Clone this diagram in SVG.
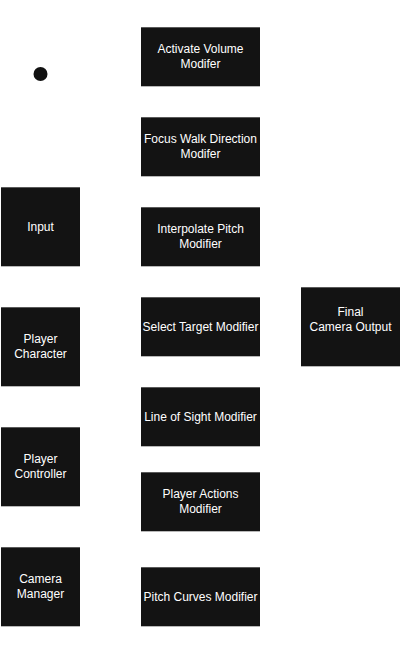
<svg xmlns="http://www.w3.org/2000/svg" width="401" height="667" viewBox="0 0 401 667">
<style>
.box{fill:#131313}
.top{stroke:#5a5a5a;stroke-width:1}
.bot{stroke:#b8b8b8;stroke-width:1}
text{font-family:"Liberation Sans",Arial,sans-serif;font-size:12px;fill:#ffffff;text-anchor:middle}
</style>
<rect width="401" height="667" fill="#ffffff"/>
<g id="start"><circle cx="40.5" cy="74" r="7" fill="#111111"/></g>
<g id="connectors"></g>
<g id="input"><rect class="box" x="1" y="187" width="79" height="79"/><line class="top" x1="1" y1="187.5" x2="80" y2="187.5"/><line class="bot" x1="1" y1="266.5" x2="80" y2="266.5"/><text x="40.5" y="231">Input</text></g>
<g id="player-character"><rect class="box" x="1" y="307" width="79" height="79"/><line class="top" x1="1" y1="307.5" x2="80" y2="307.5"/><line class="bot" x1="1" y1="386.5" x2="80" y2="386.5"/><text x="40.5" y="343">Player</text><text x="40.5" y="358">Character</text></g>
<g id="player-controller"><rect class="box" x="1" y="427" width="79" height="79"/><line class="top" x1="1" y1="427.5" x2="80" y2="427.5"/><line class="bot" x1="1" y1="506.5" x2="80" y2="506.5"/><text x="40.5" y="463">Player</text><text x="40.5" y="478">Controller</text></g>
<g id="camera-manager"><rect class="box" x="1" y="547" width="79" height="79"/><line class="top" x1="1" y1="547.5" x2="80" y2="547.5"/><line class="bot" x1="1" y1="626.5" x2="80" y2="626.5"/><text x="40.5" y="583">Camera</text><text x="40.5" y="598">Manager</text></g>
<g id="activate-volume"><rect class="box" x="141" y="27" width="119" height="59"/><line class="top" x1="141" y1="27.5" x2="260" y2="27.5"/><line class="bot" x1="141" y1="86.5" x2="260" y2="86.5"/><text x="200.5" y="53">Activate Volume</text><text x="200.5" y="68">Modifer</text></g>
<g id="focus-walk"><rect class="box" x="141" y="117" width="119" height="59"/><line class="top" x1="141" y1="117.5" x2="260" y2="117.5"/><line class="bot" x1="141" y1="176.5" x2="260" y2="176.5"/><text x="200.5" y="143">Focus Walk Direction</text><text x="200.5" y="158">Modifer</text></g>
<g id="interpolate-pitch"><rect class="box" x="141" y="207" width="119" height="59"/><line class="top" x1="141" y1="207.5" x2="260" y2="207.5"/><line class="bot" x1="141" y1="266.5" x2="260" y2="266.5"/><text x="200.5" y="233">Interpolate Pitch</text><text x="200.5" y="248">Modifier</text></g>
<g id="select-target"><rect class="box" x="141" y="297" width="119" height="59"/><line class="top" x1="141" y1="297.5" x2="260" y2="297.5"/><line class="bot" x1="141" y1="356.5" x2="260" y2="356.5"/><text x="200.5" y="331">Select Target Modifier</text></g>
<g id="line-of-sight"><rect class="box" x="141" y="387" width="119" height="59"/><line class="top" x1="141" y1="387.5" x2="260" y2="387.5"/><line class="bot" x1="141" y1="446.5" x2="260" y2="446.5"/><text x="200.5" y="421">Line of Sight Modifier</text></g>
<g id="player-actions"><rect class="box" x="141" y="472" width="119" height="59"/><line class="top" x1="141" y1="472.5" x2="260" y2="472.5"/><line class="bot" x1="141" y1="531.5" x2="260" y2="531.5"/><text x="200.5" y="498">Player Actions</text><text x="200.5" y="513">Modifier</text></g>
<g id="pitch-curves"><rect class="box" x="141" y="567" width="119" height="59"/><line class="top" x1="141" y1="567.5" x2="260" y2="567.5"/><line class="bot" x1="141" y1="626.5" x2="260" y2="626.5"/><text x="200.5" y="601">Pitch Curves Modifier</text></g>
<g id="final-output"><rect class="box" x="301" y="287" width="99" height="79"/><line class="top" x1="301" y1="287.5" x2="400" y2="287.5"/><line class="bot" x1="301" y1="366.5" x2="400" y2="366.5"/><text x="350.5" y="316">Final</text><text x="350.5" y="331">Camera Output</text></g>
</svg>
